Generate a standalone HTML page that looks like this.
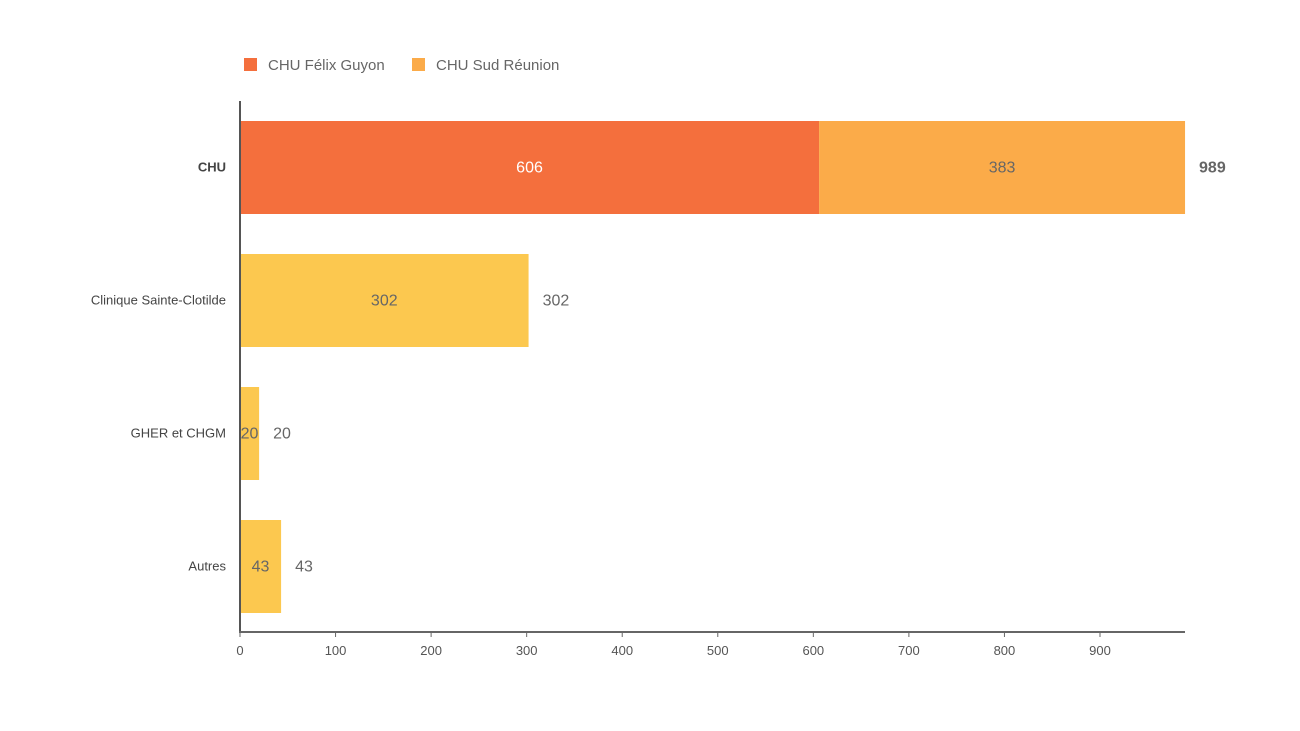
<!DOCTYPE html>
<html><head><meta charset="utf-8"><style>
body{margin:0;background:#fff;}
svg{display:block;font-family:"Liberation Sans",sans-serif;}
</style></head><body>
<svg id="chart" width="1300" height="731">
<g id="legend">
<g>
<rect x="244" y="58" width="13" height="13" fill="#F46F3D"/>
<text x="268" y="70" font-size="15" fill="#666">CHU Félix Guyon</text></g>
<g>
<rect x="412" y="58" width="13" height="13" fill="#FBAB49"/>
<text x="436" y="70" font-size="15" fill="#666">CHU Sud Réunion</text></g>
</g>
<g id="bars"></g>
<g id="axes"></g>
</svg>
<script>
const categories=["CHU","Clinique Sainte-Clotilde","GHER et CHGM","Autres"];
const seriesFelix=[606,0,0,0];
const seriesSud=[383,0,0,0];
const seriesOther=[0,302,20,43];
const ticks=[0,100,200,300,400,500,600,700,800,900];
const NS="http://www.w3.org/2000/svg";
const x0=240,pxPer=(1100-240)/900,top0=121,step=133,bh=93;
const X=v=>x0+v*pxPer;
const bars=document.getElementById('bars'),axes=document.getElementById('axes');
function mk(tag,attrs,parent,text){const e=document.createElementNS(NS,tag);for(const k in attrs)e.setAttribute(k,attrs[k]);if(text!==undefined)e.textContent=text;parent.appendChild(e);return e;}
categories.forEach((c,i)=>{
 const y=top0+i*step,cy=y+bh/2+5;
 const segs=[[seriesFelix[i],"#F46F3D","#fff"],[seriesSud[i],"#FBAB49","#666"],[seriesOther[i],"#FCC84F","#666"]];
 let acc=0;
 segs.forEach((s,j)=>{ if(!s[0])return;
  const r=mk('rect',{x:X(acc),y:y,width:s[0]*pxPer,height:bh,fill:s[1]},bars);
  
  
  const t=mk('text',{x:X(acc+s[0]/2),y:cy,'font-size':16,fill:s[2],'text-anchor':'middle'},bars,s[0]);
  
  
  acc+=s[0];});
 const tot=mk('text',{x:X(acc)+14,y:cy,'font-size':16,fill:'#666','font-weight':i===0?'bold':'normal'},bars,acc);
 
 
 const cl=mk('text',{x:226,y:cy-1,'font-size':13,fill:'#444','text-anchor':'end','font-weight':i===0?'bold':'normal'},axes,c);
 
 
});
const ya=mk('line',{x1:240,y1:101,x2:240,y2:632,stroke:'#555','stroke-width':2},axes);


const xa=mk('line',{x1:239,y1:632,x2:1185,y2:632,stroke:'#666','stroke-width':2},axes);


ticks.forEach(t=>{
 const tm=mk('line',{x1:X(t),y1:632,x2:X(t),y2:637,stroke:'#666','stroke-width':1},axes);
 
 
 const tl=mk('text',{x:X(t),y:655,'font-size':13,fill:'#555','text-anchor':'middle'},axes,t);
 
 
});
</script>
</body></html>
